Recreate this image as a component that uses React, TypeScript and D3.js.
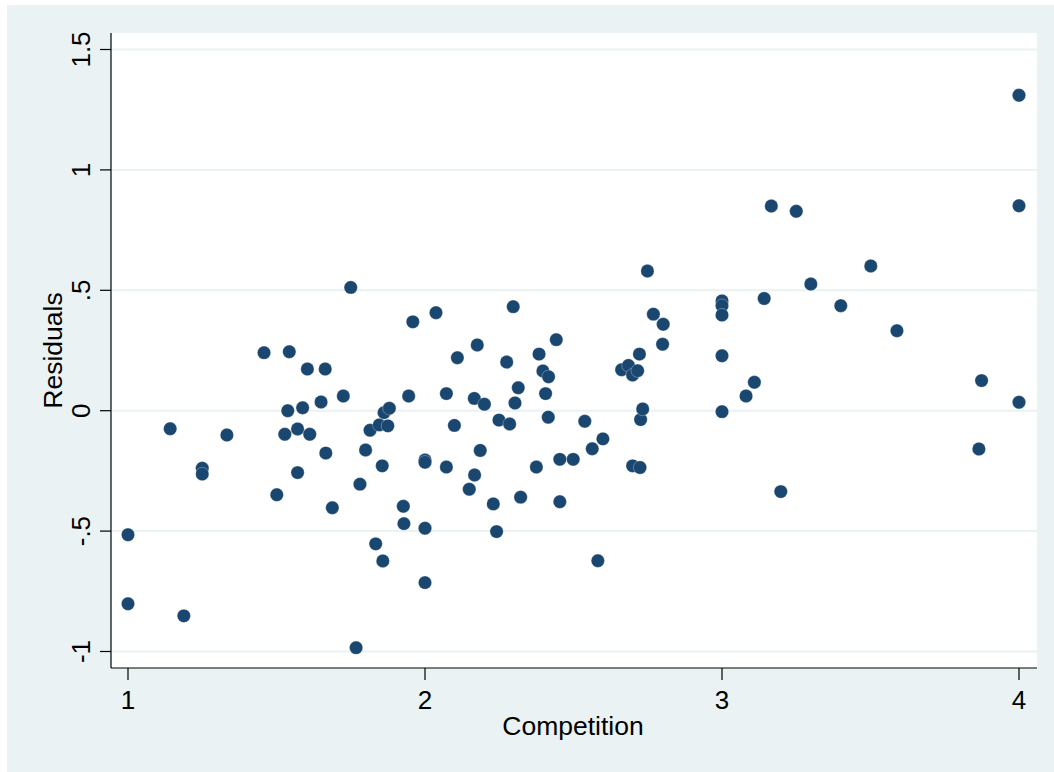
import React from "react";
import * as d3 from "d3";

const competition: number[] = [
  1.0, 1.0, 1.142, 1.188, 1.25, 1.25, 1.333, 1.458, 1.501, 1.528,
  1.538, 1.543, 1.571, 1.571, 1.588, 1.604, 1.612, 1.65, 1.664, 1.666,
  1.688, 1.725, 1.75, 1.768, 1.781, 1.8, 1.815, 1.834, 1.846, 1.856,
  1.858, 1.862, 1.875, 1.88, 1.927, 1.929, 1.945, 1.959, 2.0, 2.0,
  2.0, 2.0, 2.037, 2.072, 2.072, 2.099, 2.109, 2.149, 2.166, 2.167,
  2.176, 2.186, 2.2, 2.23, 2.241, 2.249, 2.275, 2.285, 2.297, 2.303,
  2.314, 2.322, 2.375, 2.384, 2.397, 2.406, 2.415, 2.416, 2.442, 2.454,
  2.454, 2.499, 2.538, 2.563, 2.582, 2.599, 2.662, 2.685, 2.699, 2.699,
  2.716, 2.722, 2.724, 2.726, 2.733, 2.749, 2.769, 2.8, 2.802, 3.0,
  3.0, 3.0, 3.0, 3.0, 3.081, 3.109, 3.142, 3.166, 3.198, 3.25,
  3.299, 3.4, 3.501, 3.589, 3.865, 3.874, 4.0, 4.0, 4.0,
];

const residuals: number[] = [
  -0.515, -0.802, -0.075, -0.852, -0.239, -0.263, -0.101, 0.241, -0.349, -0.098,
  0.0, 0.245, -0.076, -0.257, 0.012, 0.173, -0.098, 0.036, 0.173, -0.176,
  -0.403, 0.061, 0.512, -0.984, -0.305, -0.163, -0.081, -0.553, -0.059, -0.229,
  -0.624, -0.008, -0.063, 0.01, -0.397, -0.469, 0.061, 0.369, -0.205, -0.214,
  -0.488, -0.714, 0.407, 0.071, -0.234, -0.061, 0.22, -0.326, 0.051, -0.267,
  0.273, -0.165, 0.027, -0.387, -0.502, -0.039, 0.202, -0.055, 0.432, 0.032,
  0.095, -0.359, -0.234, 0.235, 0.165, 0.071, -0.027, 0.141, 0.295, -0.202,
  -0.378, -0.202, -0.044, -0.158, -0.623, -0.117, 0.17, 0.188, 0.148, -0.229,
  0.166, 0.235, -0.236, -0.037, 0.007, 0.58, 0.401, 0.276, 0.359, 0.456,
  0.436, 0.397, 0.228, -0.004, 0.061, 0.118, 0.466, 0.85, -0.336, 0.828,
  0.526, 0.436, 0.601, 0.332, -0.159, 0.125, 1.31, 0.851, 0.035,
];

const xTicks: number[] = [1, 2, 3, 4];
const xTickLabels: string[] = ["1", "2", "3", "4"];
const yTicks: number[] = [-1, -0.5, 0, 0.5, 1, 1.5];
const yTickLabels: string[] = ["-1", "-.5", "0", ".5", "1", "1.5"];

const xTitle = "Competition";
const yTitle = "Residuals";

const W = 1054;
const H = 772;
const BG = "#EAF2F3";
const MARK = "#1A476F";
const FONT = "'Liberation Sans', Arial, Helvetica, sans-serif";

export default function App() {
  const plotLeft = 111;
  const plotRight = 1037;
  const plotTop = 33;
  const plotBottom = 668;

  const x = d3.scaleLinear().domain([1, 4]).range([128, 1019]);
  const y = d3.scaleLinear().domain([-1, 1.5]).range([651.5, 49.5]);

  const points = competition.map((c, i) => ({ c, r: residuals[i] }));

  return (
    <svg
      width={W}
      height={H}
      style={{ position: "absolute", left: 0, top: 0, display: "block" }}
      fontFamily={FONT}
    >
      <rect x={0} y={0} width={W} height={H} fill="#ffffff" />
      <rect x={7} y={5} width={W - 7} height={H - 5} fill={BG} />
      <rect
        x={plotLeft}
        y={plotTop}
        width={plotRight - plotLeft}
        height={plotBottom - plotTop}
        fill="#ffffff"
      />
      {/* gridlines */}
      {yTicks.map((t) => (
        <line
          key={"g" + t}
          x1={plotLeft}
          x2={plotRight}
          y1={y(t)}
          y2={y(t)}
          stroke={BG}
          strokeWidth={2}
        />
      ))}
      {/* points */}
      {points.map((p, i) => (
        <circle
          key={i}
          cx={x(p.c)}
          cy={y(p.r)}
          r={6.7}
          fill={MARK}
          stroke="#ffffff"
          strokeOpacity={0.6}
          strokeWidth={0.5}
        />
      ))}
      {/* axes */}
      <line x1={plotLeft} x2={plotLeft} y1={plotTop} y2={plotBottom} stroke="#000" strokeWidth={1.2} />
      <line x1={plotLeft} x2={plotRight} y1={plotBottom} y2={plotBottom} stroke="#000" strokeWidth={1.2} />
      {/* y ticks */}
      {yTicks.map((t, i) => (
        <g key={"yt" + t}>
          <line x1={plotLeft - 11} x2={plotLeft} y1={y(t)} y2={y(t)} stroke="#000" strokeWidth={1.2} />
          <text
            transform={`translate(90,${y(t)}) rotate(-90)`}
            textAnchor="middle"
            fontSize={26}
            fill="#000"
          >
            {yTickLabels[i]}
          </text>
        </g>
      ))}
      {/* x ticks */}
      {xTicks.map((t, i) => (
        <g key={"xt" + t}>
          <line x1={x(t)} x2={x(t)} y1={plotBottom} y2={plotBottom + 12} stroke="#000" strokeWidth={1.2} />
          <text x={x(t)} y={709} textAnchor="middle" fontSize={26} fill="#000">
            {xTickLabels[i]}
          </text>
        </g>
      ))}
      <text x={(plotLeft + plotRight) / 2 + (573 - 574)} y={735} textAnchor="middle" fontSize={26.5} fill="#000">
        {xTitle}
      </text>
      <text
        transform={`translate(62,${(plotTop + plotBottom) / 2}) rotate(-90)`}
        textAnchor="middle"
        fontSize={26.5}
        fill="#000"
      >
        {yTitle}
      </text>
    </svg>
  );
}
